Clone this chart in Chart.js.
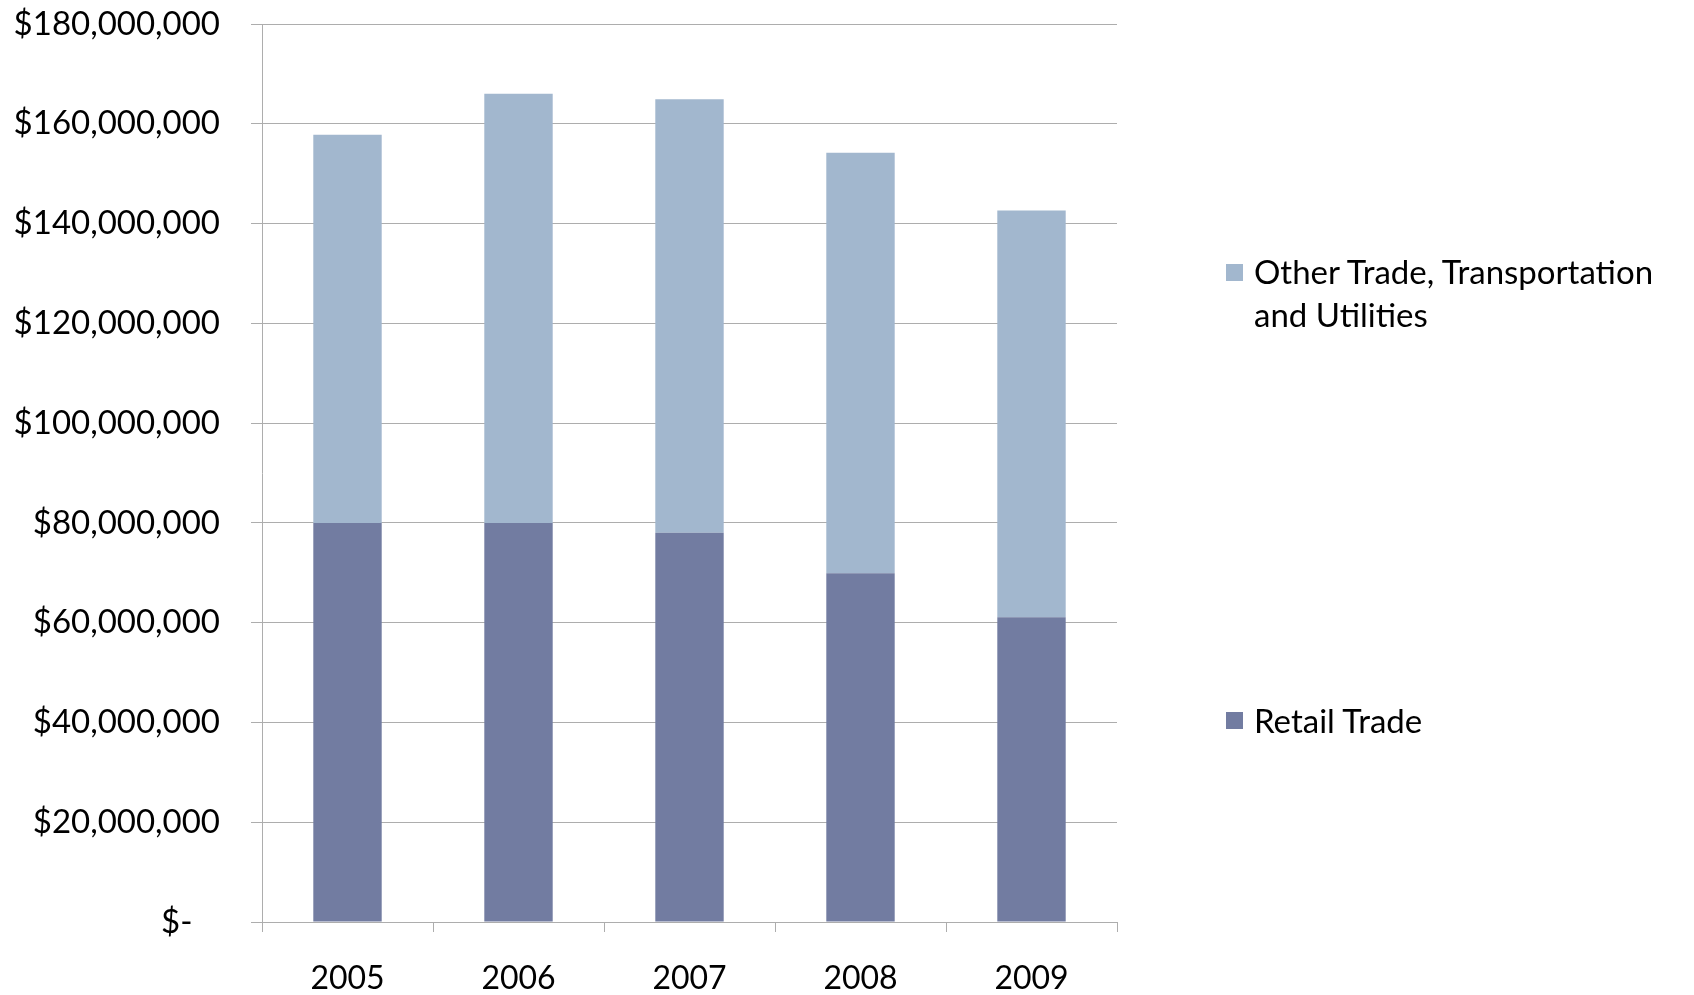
<!DOCTYPE html>
<html>
<head>
<meta charset="utf-8">
<script src="https://cdn.jsdelivr.net/npm/chart.js@4"></script>
<style>
    html, body { margin: 0; padding: 0; background: #ffffff; }
    #wrap { position: relative; width: 1694px; height: 995px; }
    #legend { position: absolute; left: 0; top: 0; font-family: Lato, "Open Sans", sans-serif; font-size: 33px; color: #000; }
    .box { position: absolute; width: 17px; height: 17px; }
    .txt { position: absolute; line-height: 43px; width: 440px; }
</style>
</head>
<body>
<div id="wrap">
    <canvas id="trade" width="1694" height="995"></canvas>
    <div id="legend"></div>
</div>
<script>
"use strict";

const years = ["2005", "2006", "2007", "2008", "2009"];
const retailTrade = [80000000, 80000000, 78000000, 69900000, 61100000];
const otherTrade = [77800000, 86000000, 86900000, 84300000, 81500000];
const seriesNames = ["Retail Trade", "Other Trade, Transportation and Utilities"];
const seriesColors = ["#727ca1", "#a2b7ce"];
const yTicks = [0, 20000000, 40000000, 60000000, 80000000, 100000000, 120000000, 140000000, 160000000, 180000000];

const gridGray = "#adadad";
const fontFamily = "Lato, 'Open Sans', sans-serif";

function moneyLabel(v) {
    if (v === 0) return "$-\u2007 ";
    return "$" + Number(v).toLocaleString("en-US");
}

const ctx = document.getElementById("trade");
const chart = new Chart(ctx, {
    type: "bar",
    data: {
        labels: years,
        datasets: [ {
            label: seriesNames[0],
            data: retailTrade,
            backgroundColor: seriesColors[0],
            borderWidth: 0
        }, {
            label: seriesNames[1],
            data: otherTrade,
            backgroundColor: seriesColors[1],
            borderWidth: 0
        } ]
    },
    options: {
        responsive: false,
        devicePixelRatio: 1,
        animation: false,
        layout: {
            padding: { left: 12, top: 24, right: 577, bottom: 0 }
        },
        datasets: {
            bar: {
                categoryPercentage: 1,
                barPercentage: 0.4
            }
        },
        plugins: {
            legend: { display: false },
            tooltip: { enabled: false }
        },
        scales: {
            x: {
                stacked: true,
                offset: true,
                grid: {
                    offset: true,
                    drawOnChartArea: false,
                    drawTicks: true,
                    tickLength: 10,
                    color: gridGray
                },
                border: { display: true, color: gridGray, width: 1 },
                ticks: {
                    padding: 27,
                    color: "#000",
                    font: { family: fontFamily, size: 32 }
                },
                afterFit: function(s) { s.height = 73; }
            },
            y: {
                stacked: true,
                min: yTicks[0],
                max: yTicks[yTicks.length - 1],
                afterBuildTicks: function(s) {
                    s.ticks = yTicks.map(function(v) { return { value: v }; });
                },
                grid: {
                    drawTicks: true,
                    tickLength: 11,
                    color: gridGray
                },
                border: { display: true, color: gridGray, width: 1 },
                ticks: {
                    padding: 31,
                    color: "#000",
                    font: { family: fontFamily, size: 33 },
                    callback: moneyLabel
                },
                afterFit: function(s) {
                    // the big tick padding would otherwise push the plot down
                    s.width = 250;
                    s.paddingTop = 0;
                    s.paddingBottom = 0;
                }
            }
        }
    }
});

// legend on the right, Excel-like spacing, top item is the top of the stack
(function buildLegend() {
    const legend = document.getElementById("legend");
    const spots = [ { box: 712, text: 699 }, { box: 264, text: 250 } ];
    for (let i = chart.data.datasets.length - 1; i >= 0; i--) {
        const ds = chart.data.datasets[i];
        const box = document.createElement("div");
        box.className = "box";
        box.style.left = "1226px";
        box.style.top = spots[i].box + "px";
        box.style.background = ds.backgroundColor;
        const txt = document.createElement("div");
        txt.className = "txt";
        txt.style.left = "1254px";
        txt.style.top = spots[i].text + "px";
        txt.textContent = ds.label;
        legend.appendChild(box);
        legend.appendChild(txt);
    }
})();
</script>
</body>
</html>
